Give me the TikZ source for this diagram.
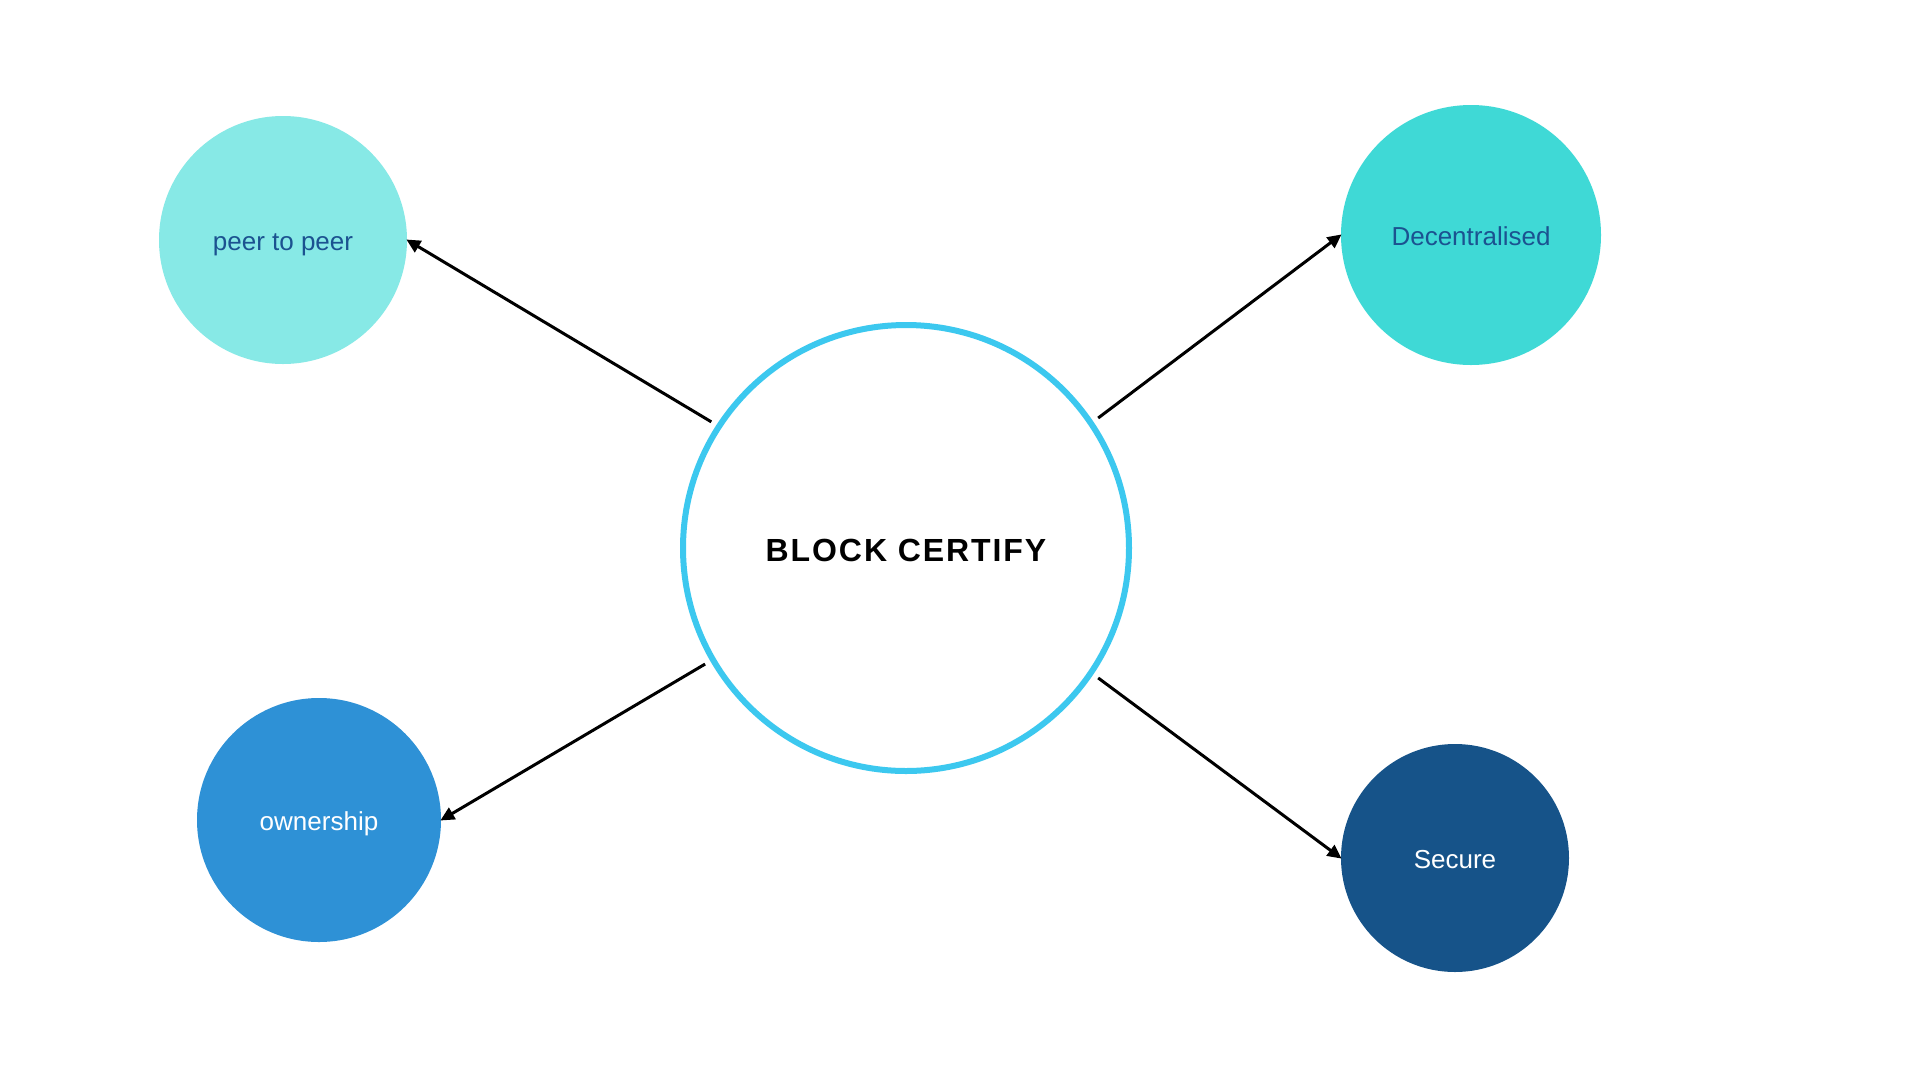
\documentclass[tikz,border=0pt]{standalone}
\usepackage{fontspec}
\setmainfont{Liberation Sans}
\newfontfamily\titlefont[LetterSpace=6]{Liberation Sans}
\usetikzlibrary{arrows.meta}
\definecolor{peercol}{HTML}{87E9E6}
\definecolor{decol}{HTML}{3FD9D6}
\definecolor{owncol}{HTML}{2E91D6}
\definecolor{seccol}{HTML}{165389}
\definecolor{ringcol}{HTML}{3CC8EF}
\definecolor{darktext}{HTML}{1B5290}
\tikzset{
  bubble/.style={circle, inner sep=0pt, text height=20pt, text depth=0pt, font=\fontsize{26}{30}\selectfont},
  conn/.style={line width=3pt, black, -{Triangle[length=14pt,width=13pt]}, shorten >=-1pt, shorten <=6pt}
}
\begin{document}
\begin{tikzpicture}[x=1pt,y=-1pt]
\useasboundingbox[fill=white] (0,0) rectangle (1920,1080);
\node[circle, draw=ringcol, line width=6pt, fill=white, minimum size=446pt, inner sep=0pt,
      text height=27pt, text depth=0pt,
      font=\titlefont\bfseries\fontsize{32}{36}\selectfont] (core) at (906,548) {BLOCK CERTIFY};
\node[bubble, fill=peercol, text=darktext, minimum size=248pt] (peer) at (283,240) {peer to peer};
\node[bubble, fill=decol, text=darktext, minimum size=260pt] (dec) at (1471,235) {Decentralised};
\node[bubble, fill=owncol, text=white, minimum size=244pt] (own) at (319,820) {ownership};
\node[bubble, fill=seccol, text=white, minimum size=228pt] (sec) at (1455,858) {Secure};
\draw[conn] (core.147) -- (peer.east);
\draw[conn] (core.34) -- (dec.west);
\draw[conn] (core.210) -- (own.east);
\draw[conn] (core.-34) -- (sec.west);
\end{tikzpicture}
\end{document}
